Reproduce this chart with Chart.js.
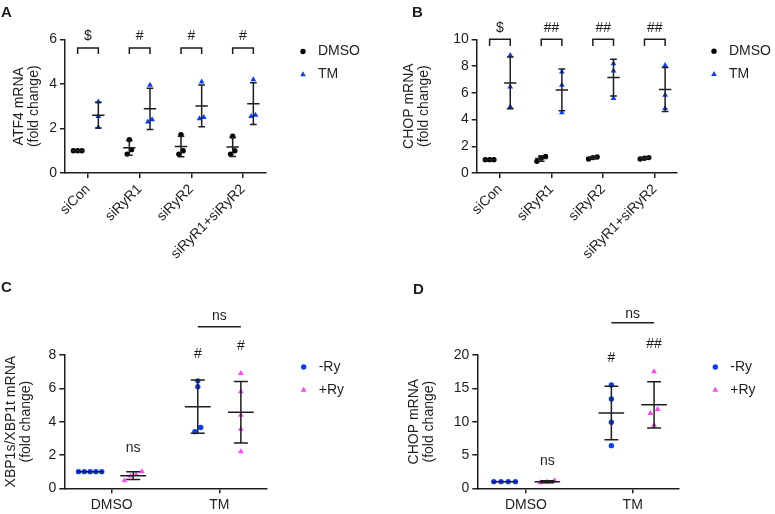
<!DOCTYPE html>
<html>
<head>
<meta charset="utf-8">
<script src="https://cdn.jsdelivr.net/npm/chart.js@4.4.1/dist/chart.umd.min.js"></script>
<style>
  body { margin: 0; background: #fff; }
  #wrap { position: relative; width: 775px; height: 514px; overflow: hidden; background: #fff; }
  canvas { position: absolute; }
</style>
</head>
<body>
<div id="wrap">
  <canvas id="cA" width="388" height="268" style="left:0;top:0"></canvas>
  <canvas id="cB" width="387" height="268" style="left:388px;top:0"></canvas>
  <canvas id="cC" width="388" height="246" style="left:0;top:268px"></canvas>
  <canvas id="cD" width="387" height="246" style="left:388px;top:268px"></canvas>
</div>
<script>
// ---- data ----
const siGroups = ['siCon', 'siRyR1', 'siRyR2', 'siRyR1+siRyR2'];
const atf4Dmso = [[1, 1, 1], [1.5, 0.85, 1.05], [1.72, 0.85, 1.0], [1.65, 0.85, 1.0]];
const atf4Tm = [[3.2, 2.55, 2.05], [3.95, 2.4, 2.3], [4.1, 2.45, 2.5], [4.2, 2.55, 2.6]];
const atf4Sig = ['$', '#', '#', '#'];

const chopDmso = [[1, 1, 1], [0.87, 1.24, 1.12], [1.05, 1.2, 1.15], [1.05, 1.15, 1.1]];
const chopTm = [[8.8, 6.45, 4.96], [7.56, 6.57, 4.51], [8.19, 7.64, 5.58], [8.06, 5.83, 4.84]];
const chopSig = ['$', '##', '##', '##'];

const ryGroups = ['DMSO', 'TM'];
const xbpMinusRy = [[1, 1, 1, 1, 1], [6.45, 6.1, 3.4, 3.65]];
const xbpPlusRy = [[1.0, 0.74, 0.46, 0.84], [6.9, 5.8, 4.4, 3.55, 2.2]];
const xbpSigMinus = ['', '#'];
const xbpSigPlus = ['ns', '#'];
const xbpSigBetween = ['', 'ns'];

const chopRyMinus = [[1, 1, 1, 1], [15.5, 13.4, 9.9, 6.4]];
const chopRyPlus = [[0.85, 1.15, 0.95], [17.5, 11.85, 11.25, 9.5]];
const chopRySigMinus = ['', '#'];
const chopRySigPlus = ['ns', '##'];
const chopRySigBetween = ['', 'ns'];

const FONT = "'Liberation Sans', Arial, Helvetica, sans-serif";
const INK = '#1e1e1e';
const BLUE = '#0a3cff';
const PINK = '#ff45f5';

// spread points that would overlap (GraphPad style scatter)
function swarm(vals, center, tol, step) {
  const idx = vals.map((v, i) => i).sort((a, b) => vals[a] - vals[b]);
  const out = new Array(vals.length);
  let run = [idx[0]];
  const flush = () => run.forEach((k, j) => { out[k] = center + (j - (run.length - 1) / 2) * step; });
  for (let n = 1; n < idx.length; n++) {
    if (vals[idx[n]] - vals[run[run.length - 1]] < tol) run.push(idx[n]);
    else { flush(); run = [idx[n]]; }
  }
  flush();
  return out;
}

function mean(a) { return a.reduce((s, v) => s + v, 0) / a.length; }
function sd(a) {
  const m = mean(a);
  return Math.sqrt(a.reduce((s, v) => s + (v - m) * (v - m), 0) / (a.length - 1));
}

function drawMarker(ctx, style, x, y, r, color) {
  ctx.save();
  ctx.fillStyle = color;
  ctx.beginPath();
  if (style === 'triangle') {
    ctx.moveTo(x, y - r);
    ctx.lineTo(x + r * 0.866, y + r * 0.5);
    ctx.lineTo(x - r * 0.866, y + r * 0.5);
    ctx.closePath();
  } else {
    ctx.arc(x, y, r, 0, Math.PI * 2);
  }
  ctx.fill();
  ctx.restore();
}

// mean ± SD bars
const errorBars = {
  id: 'errorBars',
  afterDatasetsDraw(chart) {
    const { ctx, scales: { x, y } } = chart;
    ctx.save();
    ctx.strokeStyle = INK;
    ctx.lineWidth = 1.5;
    chart.data.datasets.forEach(ds => {
      ds.groups.forEach((vals, g) => {
        const c = g + 1 + ds.offset;
        const m = mean(vals), s = sd(vals);
        const px = x.getPixelForValue(c);
        const mw = x.getPixelForValue(c + 0.12) - px;
        const cw = x.getPixelForValue(c + 0.065) - px;
        const yTop = y.getPixelForValue(m + s), yBot = y.getPixelForValue(m - s), yM = y.getPixelForValue(m);
        ctx.beginPath();
        ctx.moveTo(px, yTop); ctx.lineTo(px, yBot);
        ctx.moveTo(px - cw, yTop); ctx.lineTo(px + cw, yTop);
        ctx.moveTo(px - cw, yBot); ctx.lineTo(px + cw, yBot);
        ctx.moveTo(px - mw, yM); ctx.lineTo(px + mw, yM);
        ctx.stroke();
      });
    });
    ctx.restore();
  }
};

// legend, panel letter, significance marks
const decor = {
  id: 'decor',
  afterDraw(chart, args, opts) {
    const { ctx, chartArea: a, scales: { x, y } } = chart;
    ctx.save();
    ctx.fillStyle = INK;
    ctx.font = 'bold 15px ' + FONT;
    ctx.textBaseline = 'alphabetic';
    ctx.textAlign = 'left';
    ctx.fillText(opts.letter, opts.letterX, opts.letterY);

    ctx.font = '14px ' + FONT;
    ctx.textBaseline = 'middle';
    chart.data.datasets.forEach((ds, i) => {
      const ly = a.top + 12 + i * 23;
      drawMarker(ctx, ds.pointStyle, a.right + 37, ly, ds.pointStyle === 'triangle' ? 3.3 : 2.7, ds.backgroundColor);
      ctx.fillStyle = INK;
      ctx.fillText(ds.label, a.right + 52, ly);
    });

    ctx.textAlign = 'center';
    ctx.strokeStyle = INK;
    ctx.lineWidth = 1.5;
    (opts.brackets || []).forEach((t, g) => {
      const b = opts.bracket;
      const x1 = x.getPixelForValue(g + 1 - 0.2), x2 = x.getPixelForValue(g + 1 + 0.2);
      const yt = y.getPixelForValue(b.top), yl = y.getPixelForValue(b.leg);
      ctx.beginPath();
      ctx.moveTo(x1, yl); ctx.lineTo(x1, yt); ctx.lineTo(x2, yt); ctx.lineTo(x2, yl);
      ctx.stroke();
      ctx.fillText(t, x.getPixelForValue(g + 1), y.getPixelForValue(b.text));
    });
    (opts.marks || []).forEach(mk => {
      mk.texts.forEach((t, g) => {
        if (!t) return;
        const cx = g + 1 + mk.offset;
        if (mk.line) {
          const yl = y.getPixelForValue(mk.line[g]);
          ctx.beginPath();
          ctx.moveTo(x.getPixelForValue(g + 1 - 0.2), yl);
          ctx.lineTo(x.getPixelForValue(g + 1 + 0.2), yl);
          ctx.stroke();
        }
        ctx.fillText(t, x.getPixelForValue(cx), y.getPixelForValue(mk.at[g]));
      });
    });
    ctx.restore();
  }
};

function makePanel(id, p) {
  const canvas = document.getElementById(id);
  const W = canvas.width, H = canvas.height;
  const xUnit = (p.area.r - p.area.l) / (p.xMax - p.xMin);
  const yUnit = (p.area.b - p.area.t) / p.yMax;
  const tol = 5 / yUnit, step = p.stepPx / xUnit;

  const datasets = p.series.map(s => ({
    label: s.label,
    groups: s.groups,
    offset: s.offset,
    data: s.groups.flatMap((vals, g) => {
      const xs = swarm(vals, g + 1 + s.offset, tol, step);
      return vals.map((v, i) => ({ x: xs[i], y: v }));
    }),
    pointStyle: s.style,
    pointRadius: s.style === 'triangle' ? 3.3 : 2.7,
    pointHoverRadius: s.style === 'triangle' ? 3.3 : 2.7,
    backgroundColor: s.color,
    borderWidth: 0,
    showLine: false,
    clip: false
  }));

  const axisGrid = { drawOnChartArea: false, drawTicks: true, tickLength: 5, color: INK, lineWidth: 1.5 };
  const axisBorder = { display: true, color: INK, width: 1.5 };

  return new Chart(canvas, {
    type: 'scatter',
    data: { datasets },
    options: {
      responsive: false,
      animation: false,
      events: [],
      layout: { padding: { left: 0, top: p.area.t, right: W - p.area.r, bottom: 0 } },
      plugins: { legend: { display: false }, tooltip: { enabled: false }, decor: p.decor },
      scales: {
        x: {
          type: 'linear',
          min: p.xMin, max: p.xMax,
          grid: axisGrid, border: axisBorder,
          afterBuildTicks: sc => { sc.ticks = p.labels.map((l, i) => ({ value: i + 1 })); },
          afterFit: sc => { sc.height = H - p.area.b; },
          ticks: {
            autoSkip: false,
            minRotation: p.rot, maxRotation: p.rot,
            padding: 3,
            color: INK,
            font: { family: FONT, size: 14 },
            callback: v => p.labels[v - 1]
          }
        },
        y: {
          min: 0, max: p.yMax,
          grid: axisGrid, border: axisBorder,
          afterFit: sc => { sc.width = p.area.l; },
          ticks: { stepSize: p.yStep, padding: 3, color: INK, font: { family: FONT, size: 14 } },
          title: {
            display: true,
            text: p.title,
            color: INK,
            font: { family: FONT, size: 14, lineHeight: 1.07 },
            padding: { top: p.titlePad, bottom: 0 }
          }
        }
      }
    },
    plugins: [errorBars, decor]
  });
}

makePanel('cA', {
  area: { l: 65, t: 39.5, r: 266, b: 173 },
  xMin: 0.555, xMax: 4.445, yMax: 6, yStep: 2, stepPx: 4.3, rot: 45,
  labels: siGroups,
  title: ['ATF4 mRNA', '(fold change)'], titlePad: 11.5,
  series: [
    { label: 'DMSO', groups: atf4Dmso, offset: -0.2, style: 'circle', color: '#000' },
    { label: 'TM', groups: atf4Tm, offset: 0.2, style: 'triangle', color: BLUE }
  ],
  decor: { letter: 'A', letterX: 1, letterY: 17, brackets: atf4Sig, bracket: { top: 5.62, leg: 5.35, text: 6.13 } }
});

makePanel('cB', {
  area: { l: 88.7, t: 39.3, r: 289, b: 173 },
  xMin: 0.55, xMax: 4.43, yMax: 10, yStep: 2, stepPx: 4.3, rot: 45,
  labels: siGroups,
  title: ['CHOP mRNA', '(fold change)'], titlePad: 13.5,
  series: [
    { label: 'DMSO', groups: chopDmso, offset: -0.2, style: 'circle', color: '#000' },
    { label: 'TM', groups: chopTm, offset: 0.2, style: 'triangle', color: BLUE }
  ],
  decor: { letter: 'B', letterX: 24, letterY: 17, brackets: chopSig, bracket: { top: 10.0, leg: 9.5, text: 10.85 } }
});

makePanel('cC', {
  area: { l: 64.3, t: 87, r: 266.7, b: 220.3 },
  xMin: 0.56, xMax: 2.44, yMax: 8, yStep: 2, stepPx: 5.8, rot: 0,
  labels: ryGroups,
  title: ['XBP1s/XBP1t mRNA', '(fold change)'], titlePad: 3.3,
  series: [
    { label: '-Ry', groups: xbpMinusRy, offset: -0.2, style: 'circle', color: BLUE },
    { label: '+Ry', groups: xbpPlusRy, offset: 0.2, style: 'triangle', color: PINK }
  ],
  decor: {
    letter: 'C', letterX: 1, letterY: 24,
    marks: [
      { texts: xbpSigMinus, offset: -0.2, at: [0, 8.07] },
      { texts: xbpSigPlus, offset: 0.2, at: [2.4, 8.55] },
      { texts: xbpSigBetween, offset: 0, at: [0, 10.32], line: [0, 9.69] }
    ]
  }
});

makePanel('cD', {
  area: { l: 89.3, t: 87, r: 290.3, b: 220.3 },
  xMin: 0.544, xMax: 2.427, yMax: 20, yStep: 5, stepPx: 7.2, rot: 0,
  labels: ryGroups,
  title: ['CHOP mRNA', '(fold change)'], titlePad: 18.5,
  series: [
    { label: '-Ry', groups: chopRyMinus, offset: -0.2, style: 'circle', color: BLUE },
    { label: '+Ry', groups: chopRyPlus, offset: 0.2, style: 'triangle', color: PINK }
  ],
  decor: {
    letter: 'D', letterX: 25, letterY: 26,
    marks: [
      { texts: chopRySigMinus, offset: -0.2, at: [0, 19.55] },
      { texts: chopRySigPlus, offset: 0.2, at: [4.07, 21.7] },
      { texts: chopRySigBetween, offset: 0, at: [0, 26.1], line: [0, 24.85] }
    ]
  }
});
</script>
</body>
</html>
